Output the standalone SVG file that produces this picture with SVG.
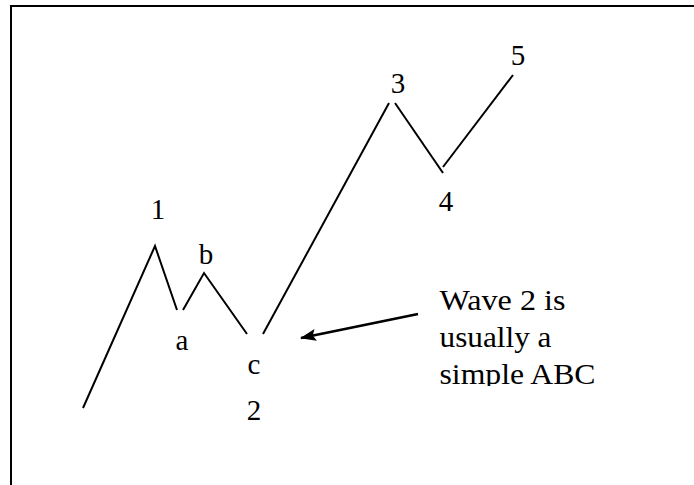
<svg xmlns="http://www.w3.org/2000/svg" width="694" height="485" viewBox="0 0 694 485">
<style>
text{font-family:'Liberation Serif','Times New Roman',Times,serif;font-size:29px;fill:#000}
.c{text-anchor:middle}
.w{fill:none;stroke:#000;stroke-width:2;stroke-linecap:butt}
</style>
<defs>
<marker id="ah" markerWidth="16" markerHeight="12" refX="15" refY="6" orient="auto" markerUnits="userSpaceOnUse" viewBox="0 0 16 12">
<path d="M0,0 L16,6 L0,12 L3,6 Z" fill="#000"/>
</marker>
<clipPath id="clip"><rect x="0" y="0" width="694" height="386"/></clipPath>
</defs>
<rect width="694" height="485" fill="#fff"/>
<path d="M11,485 V6 H694" fill="none" stroke="#000" stroke-width="2"/>
<g id="connectors">
<polyline class="w" points="83,408 155,246 177,310"/>
<polyline class="w" points="183,310 204,273 247,334"/>
<line class="w" x1="263" y1="334" x2="389" y2="103"/>
<line class="w" x1="395" y1="103" x2="443" y2="173"/>
<line class="w" x1="443" y1="167" x2="513" y2="75"/>
<line x1="418" y1="314" x2="301" y2="338" stroke="#000" stroke-width="2.5" marker-end="url(#ah)"/>
</g>
<g id="n1"><text class="c" x="158" y="219" font-family="Liberation Serif" font-size="29">1</text></g>
<g id="na"><text class="c" x="182" y="350" font-family="Liberation Serif" font-size="29">a</text></g>
<g id="nb"><text class="c" x="206" y="264" font-family="Liberation Serif" font-size="29">b</text></g>
<g id="nc"><text class="c" x="254" y="374" font-family="Liberation Serif" font-size="29">c</text></g>
<g id="n2"><text class="c" x="254" y="420" font-family="Liberation Serif" font-size="29">2</text></g>
<g id="n3"><text class="c" x="398" y="93" font-family="Liberation Serif" font-size="29">3</text></g>
<g id="n4"><text class="c" x="446" y="211" font-family="Liberation Serif" font-size="29">4</text></g>
<g id="n5"><text class="c" x="518" y="65" font-family="Liberation Serif" font-size="29">5</text></g>
<g id="note" clip-path="url(#clip)">
<text x="439.5" y="309.5" font-family="Liberation Serif" font-size="29" textLength="126" lengthAdjust="spacingAndGlyphs">Wave 2 is</text>
<text x="439.5" y="346.5" font-family="Liberation Serif" font-size="29" textLength="112" lengthAdjust="spacingAndGlyphs">usually a</text>
<text x="439.5" y="383.5" font-family="Liberation Serif" font-size="29" textLength="156" lengthAdjust="spacingAndGlyphs">simple ABC</text>
</g>
</svg>
